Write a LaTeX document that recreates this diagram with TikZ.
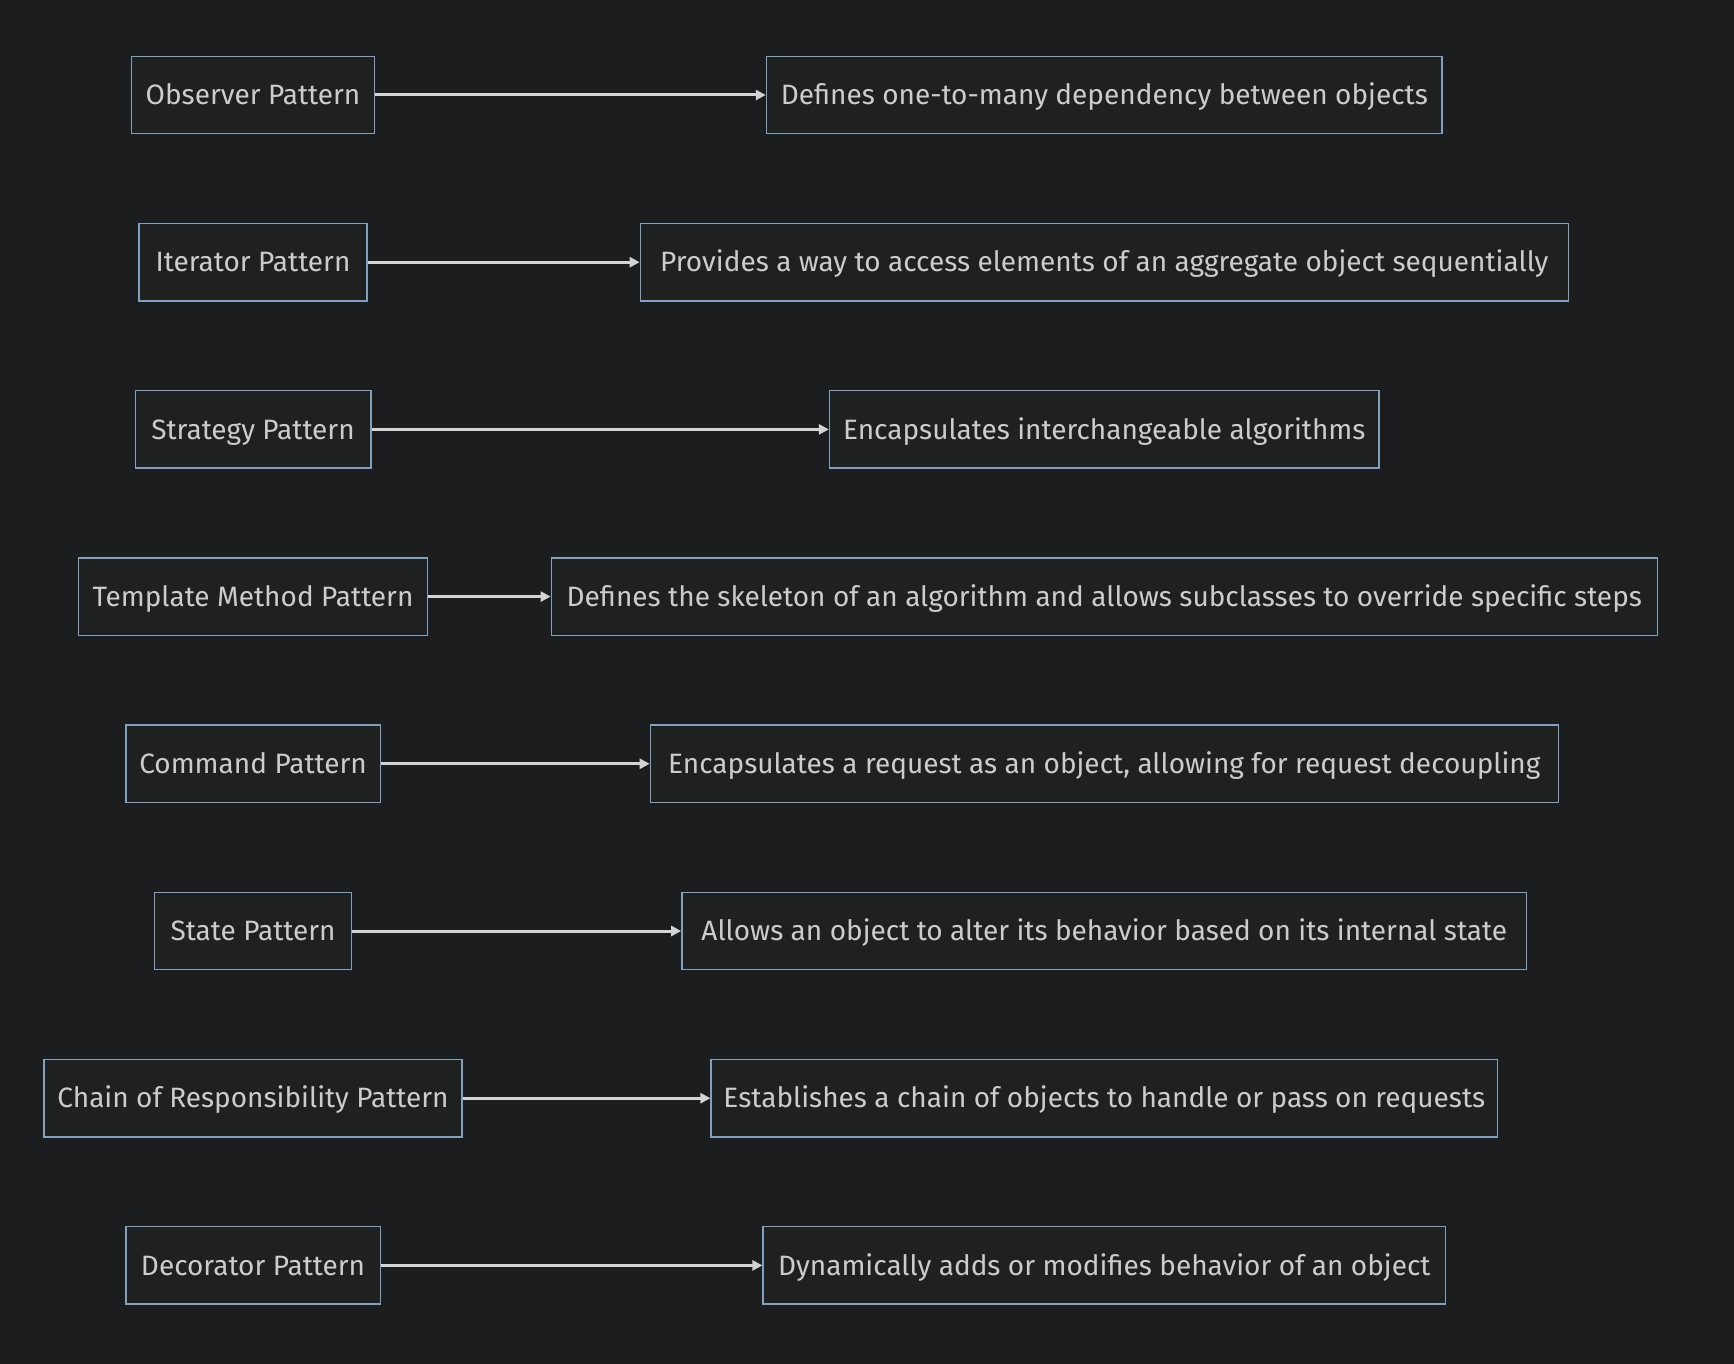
\documentclass[tikz,border=0pt]{standalone}
\usepackage{fontspec}
\setmainfont{Fira Sans}
\usetikzlibrary{arrows.meta}
\definecolor{bg}{RGB}{28,29,31}
\definecolor{boxfill}{RGB}{31,33,33}
\definecolor{boxline}{RGB}{129,161,193}
\definecolor{txt}{RGB}{204,204,204}
\definecolor{arr}{RGB}{211,211,211}
\tikzset{
  pbox/.style={draw=boxline, fill=boxfill, line width=1.4pt, minimum height=77.4pt, inner sep=0pt, text height=19.3pt, text depth=0pt, text=txt, font=\fontsize{28}{32}\selectfont, anchor=center},
  conn/.style={draw=arr, line width=3pt, -{Triangle[length=10pt,width=10pt]}}
}
\begin{document}
\begin{tikzpicture}[x=1pt,y=-1pt]
\fill[bg] (0,0) rectangle (1734,1364);
\useasboundingbox (0,0) rectangle (1734,1364);
\node[pbox, minimum width=243.3pt] (l1) at (253,95) {Observer Pattern};
\node[pbox, minimum width=675.7pt] (r1) at (1104.3,95) {Defines one-to-many dependency between objects};
\node[pbox, minimum width=227.8pt] (l2) at (253,262.2) {Iterator Pattern};
\node[pbox, minimum width=927.9pt] (r2) at (1104.3,262.2) {Provides a way to access elements of an aggregate object sequentially};
\node[pbox, minimum width=235.6pt] (l3) at (253,429.4) {Strategy Pattern};
\node[pbox, minimum width=549.6pt] (r3) at (1104.3,429.4) {Encapsulates interchangeable algorithms};
\node[pbox, minimum width=349.5pt] (l4) at (253,596.6) {Template Method Pattern};
\node[pbox, minimum width=1105.9pt] (r4) at (1104.3,596.6) {Defines the skeleton of an algorithm and allows subclasses to override specific steps};
\node[pbox, minimum width=254.4pt] (l5) at (253,763.8) {Command Pattern};
\node[pbox, minimum width=907.9pt] (r5) at (1104.3,763.8) {Encapsulates a request as an object, allowing for request decoupling};
\node[pbox, minimum width=196.9pt] (l6) at (253,931) {State Pattern};
\node[pbox, minimum width=844.9pt] (r6) at (1104.3,931) {Allows an object to alter its behavior based on its internal state};
\node[pbox, minimum width=418pt] (l7) at (253,1098.2) {Chain of Responsibility Pattern};
\node[pbox, minimum width=786.3pt] (r7) at (1104.3,1098.2) {Establishes a chain of objects to handle or pass on requests};
\node[pbox, minimum width=254.4pt] (l8) at (253,1265.4) {Decorator Pattern};
\node[pbox, minimum width=682.3pt] (r8) at (1104.3,1265.4) {Dynamically adds or modifies behavior of an object};
\foreach \i in {1,...,8} {\draw[conn] (l\i.east) -- (r\i.west);}
\end{tikzpicture}
\end{document}
